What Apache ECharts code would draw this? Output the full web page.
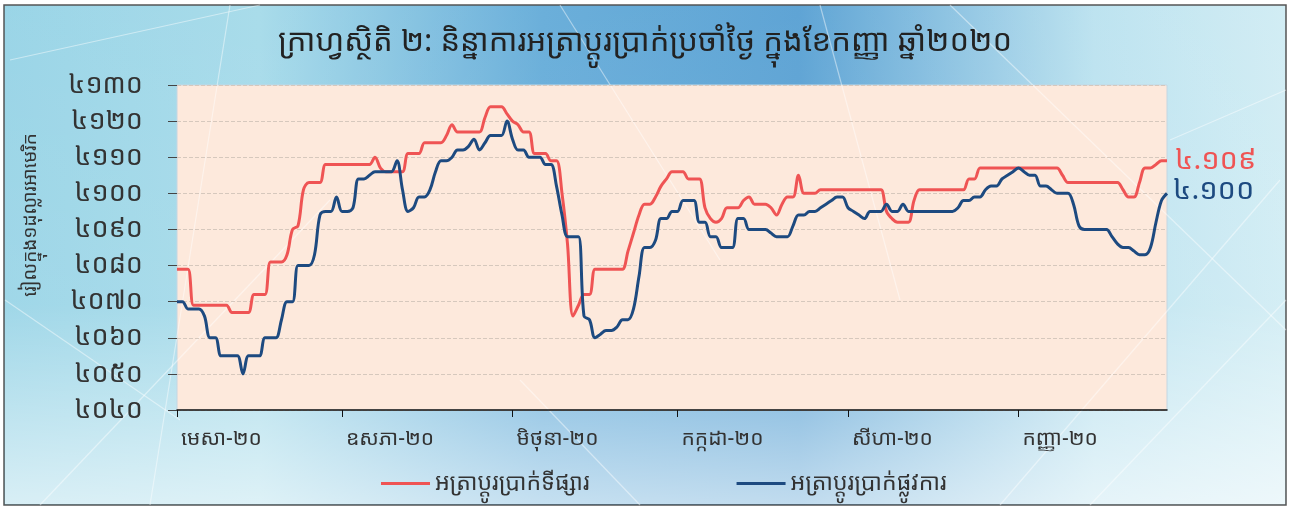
<!DOCTYPE html>
<html lang="km">
<head>
    <meta charset="UTF-8">
    <title>អត្រាប្តូរប្រាក់</title>
    <script src="https://cdn.jsdelivr.net/npm/echarts@6/dist/echarts.min.js"></script>
    <style>
        html, body {
            margin: 0;
            padding: 0;
            background: #ffffff;
        }

        #chart {
            width: 1290px;
            height: 510px;
        }
    </style>
</head>
<body>
<div id="chart"></div>
<script>
    // month axis labels
    const monthLabels = ['មេសា-២០', 'ឧសភា-២០', 'មិថុនា-២០', 'កក្កដា-២០', 'សីហា-២០', 'កញ្ញា-២០'];
    const seriesNames = ['អត្រាប្តូរប្រាក់ទីផ្សារ', 'អត្រាប្តូរប្រាក់ផ្លូវការ'];

    // market rate, riel per USD, one value per day (1 Apr .. 28 Sep 2020)
    const marketApr = [4079, 4079, 4079, 4069, 4069, 4069, 4069, 4069, 4069, 4069,
        4067, 4067, 4067, 4067, 4072, 4072, 4072, 4081, 4081, 4081,
        4083, 4090, 4091, 4101, 4103, 4103, 4103, 4108, 4108, 4108];
    const marketMay = [4108, 4108, 4108, 4108, 4108, 4108, 4110, 4107, 4106, 4106,
        4106, 4106, 4111, 4111, 4111, 4114, 4114, 4114, 4114, 4116,
        4119, 4117, 4117, 4117, 4117, 4117, 4121, 4124, 4124, 4124, 4122];
    const marketJun = [4120, 4119, 4117, 4117, 4111, 4111, 4111, 4109, 4109, 4100,
        4086, 4066, 4069, 4072, 4072, 4079, 4079, 4079, 4079, 4079,
        4079, 4084, 4089, 4094, 4097, 4097, 4099, 4102, 4104, 4106];
    const marketJul = [4106, 4106, 4104, 4104, 4104, 4096, 4093, 4092, 4093, 4096,
        4096, 4096, 4098, 4099, 4097, 4097, 4097, 4096, 4094, 4097,
        4099, 4099, 4105, 4100, 4100, 4100, 4101, 4101, 4101, 4101, 4101];
    const marketAug = [4101, 4101, 4101, 4101, 4101, 4101, 4101, 4095, 4093, 4092,
        4092, 4092, 4098, 4101, 4101, 4101, 4101, 4101, 4101, 4101,
        4101, 4101, 4104, 4104, 4107, 4107, 4107, 4107, 4107, 4107, 4107];
    const marketSep = [4107, 4107, 4107, 4107, 4107, 4107, 4107, 4107, 4105, 4103,
        4103, 4103, 4103, 4103, 4103, 4103, 4103, 4103, 4103, 4101,
        4099, 4099, 4103, 4107, 4107, 4108, 4109, 4109];

    // official rate
    const officialApr = [4070, 4070, 4068, 4068, 4068, 4066, 4060, 4060, 4055, 4055,
        4055, 4055, 4050, 4055, 4055, 4055, 4060, 4060, 4060, 4065,
        4070, 4070, 4080, 4080, 4080, 4083, 4094, 4095, 4095, 4099];
    const officialMay = [4095, 4095, 4096, 4104, 4104, 4105, 4106, 4106, 4106, 4106,
        4109, 4101, 4095, 4096, 4099, 4099, 4101, 4106, 4109, 4109,
        4110, 4112, 4112, 4113, 4115, 4112, 4114, 4116, 4116, 4116, 4120];
    const officialJun = [4115, 4112, 4112, 4110, 4110, 4110, 4108, 4108, 4102, 4094,
        4088, 4088, 4088, 4066, 4065, 4060, 4061, 4062, 4062, 4063,
        4065, 4065, 4068, 4077, 4085, 4085, 4087, 4093, 4093, 4095];
    const officialJul = [4095, 4098, 4098, 4098, 4092, 4092, 4088, 4088, 4085, 4085,
        4085, 4093, 4093, 4090, 4090, 4090, 4090, 4089, 4088, 4088,
        4088, 4091, 4094, 4094, 4095, 4095, 4096, 4097, 4098, 4099, 4099];
    const officialAug = [4096, 4095, 4094, 4093, 4095, 4095, 4095, 4097, 4095, 4095,
        4097, 4095, 4095, 4095, 4095, 4095, 4095, 4095, 4095, 4095,
        4096, 4098, 4098, 4099, 4099, 4101, 4102, 4102, 4104, 4105, 4106];
    const officialSep = [4107, 4106, 4105, 4105, 4102, 4102, 4101, 4100, 4100, 4100,
        4097, 4091, 4090, 4090, 4090, 4090, 4090, 4088, 4086, 4085,
        4085, 4084, 4083, 4083, 4085, 4092, 4098, 4100];

    const khmerDigits = '០១២៣៤៥៦៧៨៩';
    function toKhmer(s) {
        return String(s).replace(/[0-9]/g, d => khmerDigits[+d]);
    }

    const months = [marketApr, marketMay, marketJun, marketJul, marketAug, marketSep];
    const market = [].concat(...months);
    const official = [].concat(officialApr, officialMay, officialJun, officialJul, officialAug, officialSep);

    // day index of the first day of each month
    const monthStarts = [];
    months.reduce((acc, m) => { monthStarts.push(acc); return acc + m.length; }, 0);

    const marketData = market.map((v, i) => [i, v]);
    const officialData = official.map((v, i) => [i, v]);

    const khmerFont = '"Khmer OS Siemreap", "Khmer OS", "Noto Sans Khmer", Hanuman, sans-serif';
    const roundFont = '"Khmer OS Battambang", "Noto Sans Khmer", sans-serif';

    const chart = echarts.init(document.getElementById('chart'));
    chart.setOption({
        animation: false,
        textStyle: {fontFamily: khmerFont},
        graphic: [
            {
                type: 'rect', z: -10, silent: true,
                shape: {x: 4, y: 5, width: 1282, height: 500},
                style: {
                    fill: new echarts.graphic.LinearGradient(0, 0, 1, 0, [
                        {offset: 0, color: '#8fd0e4'},
                        {offset: 0.2, color: '#9fd8e8'},
                        {offset: 0.42, color: '#5aa6d6'},
                        {offset: 0.62, color: '#4d9ad0'},
                        {offset: 0.85, color: '#b6e0ee'},
                        {offset: 1, color: '#cdebf3'}
                    ]),
                    stroke: '#555555',
                    lineWidth: 1.5
                }
            },
            {
                type: 'rect', z: -9, silent: true,
                shape: {x: 5, y: 6, width: 1280, height: 498},
                style: {
                    fill: new echarts.graphic.LinearGradient(0, 0, 0, 1, [
                        {offset: 0, color: 'rgba(255,255,255,0.1)'},
                        {offset: 0.6, color: 'rgba(255,255,255,0.15)'},
                        {offset: 1, color: 'rgba(255,255,255,0.65)'}
                    ])
                }
            },
            {
                type: 'group', z: -8, silent: true,
                children: [
                    [10, 60, 260, 5], [40, 505, 330, 200], [230, 5, 150, 505],
                    [560, 5, 720, 260], [820, 5, 900, 300], [1000, 505, 1280, 180],
                    [1170, 140, 1286, 90], [1090, 505, 1286, 300], [5, 300, 180, 420],
                    [640, 505, 520, 380], [950, 5, 1286, 330]
                ].map(p => ({
                    type: 'line',
                    shape: {x1: p[0], y1: p[1], x2: p[2], y2: p[3]},
                    style: {stroke: 'rgba(255,255,255,0.45)', lineWidth: 1.2}
                }))
            },
            {
                type: 'text', silent: true,
                x: 31, y: 215, rotation: Math.PI / 2,
                style: {
                    text: 'រៀលក្នុង១ដុល្លារអាមេរិក',
                    font: '19px ' + khmerFont,
                    fill: '#333333',
                    align: 'center',
                    verticalAlign: 'middle'
                }
            }
        ],
        title: {
            text: 'ក្រាហ្វស្ថិតិ ២: និន្នាការអត្រាប្តូរប្រាក់ប្រចាំថ្ងៃ ក្នុងខែកញ្ញា ឆ្នាំ២០២០',
            left: 'center',
            top: 22,
            textStyle: {fontSize: 31, fontWeight: 'normal', color: '#222222', fontFamily: khmerFont}
        },
        legend: {
            left: 376,
            top: 467,
            itemGap: 147,
            itemWidth: 49,
            itemHeight: 3,
            icon: 'rect',
            textStyle: {fontSize: 23, color: '#333333', fontFamily: khmerFont},
            data: seriesNames
        },
        grid: {
            left: 177,
            right: 123,
            top: 85,
            bottom: 100,
            show: true,
            backgroundColor: '#fde9dc',
            borderColor: '#c4d6e2',
            borderWidth: 1
        },
        xAxis: {
            type: 'value',
            min: 0,
            max: market.length - 1,
            axisLine: {lineStyle: {color: '#111111', width: 1.5}},
            axisTick: {length: 7, lineStyle: {color: '#111111'}, customValues: monthStarts},
            axisLabel: {
                customValues: monthStarts,
                formatter: v => monthLabels[monthStarts.indexOf(v)],
                align: 'left',
                margin: 19,
                fontSize: 21,
                color: '#333333',
                padding: [0, 0, 0, 4],
                fontFamily: khmerFont
            },
            splitLine: {show: false}
        },
        yAxis: {
            type: 'value',
            min: 4040,
            max: 4130,
            interval: 10,
            axisLine: {show: false},
            axisTick: {show: true, inside: false, length: 9, lineStyle: {color: '#444444'}},
            axisLabel: {
                formatter: v => toKhmer(v),
                fontSize: 27,
                color: '#333333',
                margin: 34,
                fontFamily: roundFont
            },
            splitLine: {lineStyle: {color: '#d6c8bd', type: 'dashed'}}
        },
        series: [
            {
                name: seriesNames[0],
                type: 'line',
                data: marketData,
                smooth: 0.35,
                showSymbol: false,
                color: '#ef5454',
                lineStyle: {width: 3, color: '#ef5454'},
                endLabel: {
                    show: true,
                    formatter: p => toKhmer((p.value[1] / 1000).toFixed(3)),
                    fontSize: 29,
                    color: '#ef5454',
                    distance: 8,
                    fontFamily: roundFont
                }
            },
            {
                name: seriesNames[1],
                type: 'line',
                data: officialData,
                smooth: 0.35,
                showSymbol: false,
                color: '#1d4a80',
                lineStyle: {width: 3, color: '#1d4a80'},
                endLabel: {
                    show: true,
                    formatter: p => toKhmer((p.value[1] / 1000).toFixed(3)),
                    fontSize: 29,
                    color: '#1d4a80',
                    distance: 6,
                    offset: [0, -3],
                    fontFamily: roundFont
                }
            }
        ]
    });
</script>
</body>
</html>
